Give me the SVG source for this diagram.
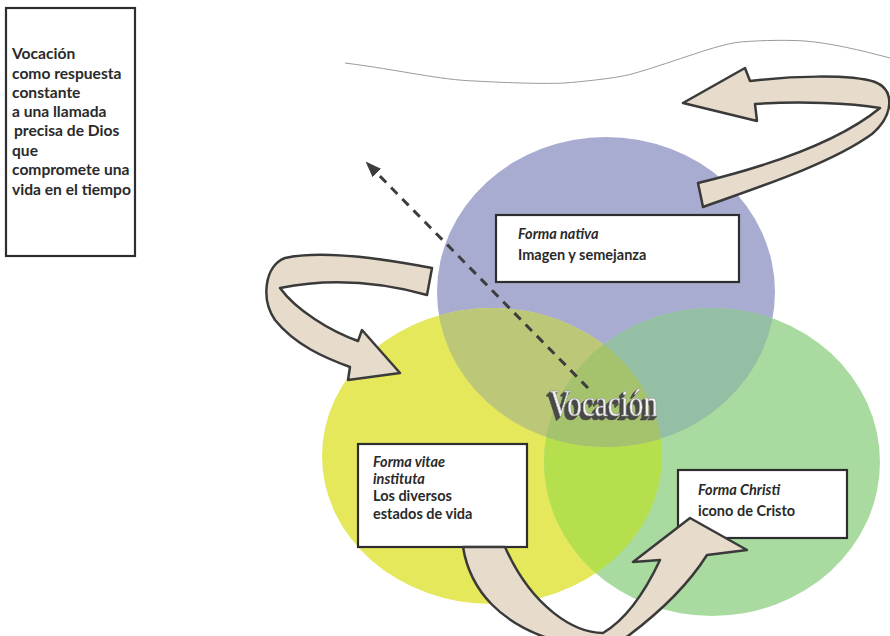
<svg xmlns="http://www.w3.org/2000/svg" width="890" height="636" viewBox="0 0 890 636">
<defs>
<style>
.box{fill:#fff;stroke:#2e2e2e;stroke-width:2.2}
.t{font-family:Lato,"Liberation Sans",sans-serif;font-weight:700;fill:#2a2a2a}
.lt{font-size:15.6px}
.bt{font-size:14.5px}
.it{font-style:italic}
.arrow{fill:#e7dccb;stroke:#3a3a3a;stroke-width:2.5;stroke-linejoin:round}
.voc{font-family:"Liberation Serif","DejaVu Serif",serif;font-size:37px}
</style>
<filter id="emboss" x="-10%" y="-20%" width="120%" height="150%">
<feFlood flood-color="#4a4a4a" result="dark"/>
<feComposite in="dark" in2="SourceAlpha" operator="in" result="shape"/>
<feOffset in="shape" dx="-1" dy="1" result="o1"/>
<feOffset in="shape" dx="-2" dy="2" result="o2"/>
<feOffset in="shape" dx="-3" dy="3" result="o3"/>
<feOffset in="shape" dx="-4" dy="3.5" result="o4"/>
<feMerge>
<feMergeNode in="o4"/>
<feMergeNode in="o3"/>
<feMergeNode in="o2"/>
<feMergeNode in="o1"/>
<feMergeNode in="SourceGraphic"/>
</feMerge>
</filter>
<clipPath id="cY"><ellipse cx="492" cy="456" rx="170" ry="148"/></clipPath>
<clipPath id="cG"><ellipse cx="712" cy="462" rx="168" ry="154"/></clipPath>
<marker id="ah" markerWidth="16" markerHeight="12" refX="14" refY="6" orient="auto" markerUnits="userSpaceOnUse">
<path d="M0,0 L16,6 L0,12 z" fill="#3d3d3d"/>
</marker>
</defs>
<rect width="890" height="636" fill="#fff"/>
<path d="M345,63 C400,70 440,80 475,81 C510,83 545,84 565,83 C600,80 620,77 632,74 C680,60 715,45 740,42 C765,40 790,40 805,41 C830,43 860,50 890,58" fill="none" stroke="#9a9a9a" stroke-width="1"/>

<g id="text-box">
<rect class="box" x="6" y="8" width="129" height="248"/>
<text class="t lt" x="12" y="59">Vocación</text>
<text class="t lt" x="12" y="79">como respuesta</text>
<text class="t lt" x="12" y="98">constante</text>
<text class="t lt" x="12" y="117">a una llamada</text>
<text class="t lt" x="14" y="136">precisa de Dios</text>
<text class="t lt" x="12" y="156">que</text>
<text class="t lt" x="12" y="175">compromete una</text>
<text class="t lt" x="12" y="195">vida en el tiempo</text>
</g>

<g id="circles">
<ellipse id="circle-nativa" cx="606" cy="292" rx="169" ry="155" fill="#a9acd1"/>
<ellipse id="circle-vitae" cx="492" cy="456" rx="170" ry="148" fill="#e6e85c"/>
<ellipse id="circle-christi" cx="712" cy="462" rx="168" ry="154" fill="#a9dba0"/>
<g clip-path="url(#cY)">
<ellipse cx="606" cy="292" rx="169" ry="155" fill="#bcc878"/>
<ellipse cx="712" cy="462" rx="168" ry="154" fill="#b6df4e"/>
</g>
<g clip-path="url(#cG)">
<ellipse cx="606" cy="292" rx="169" ry="155" fill="#95bfa5"/>
</g>
<g clip-path="url(#cY)"><g clip-path="url(#cG)">
<ellipse cx="606" cy="292" rx="169" ry="155" fill="#a5c26c"/>
</g></g>
</g>

<g id="node-nativa">
<rect class="box" x="496" y="215" width="243" height="67"/>
<text class="t bt it" x="518" y="239">Forma nativa</text>
<text class="t bt" x="518" y="260">Imagen y semejanza</text>
</g>
<g id="node-vitae">
<rect class="box" x="358" y="444" width="169" height="103"/>
<text class="t bt it" x="373" y="467">Forma vitae</text>
<text class="t bt it" x="373" y="484">instituta</text>
<text class="t bt" x="373" y="501">Los diversos</text>
<text class="t bt" x="373" y="519">estados de vida</text>
</g>
<g id="node-christi">
<rect class="box" x="678" y="470" width="169" height="68"/>
<text class="t bt it" x="698" y="495">Forma Christi</text>
<text class="t bt" x="698" y="516">icono de Cristo</text>
</g>

<g id="connectors">
<path class="arrow" d="M683,103 L745,68 L750,81 C790,76 850,74 875,82 C895,90 894,115 872,134 C832,163 762,186 703,207 L698,183 C760,168 835,145 880,108 C850,103 800,101 755,104 L757,121 Z"/>
<path class="arrow" d="M400,373 L362,330 L358,341 C330,331 296,310 280,288 C330,278 380,282 427,295 L432,268 C380,258 320,250 285,258 C264,266 261,300 275,320 C295,345 325,358 350,367 L348,380 Z"/>
<path class="arrow" d="M463,547 C470,590 500,625 560,642 C590,648 612,645 628,636 C660,612 688,585 707,555 L747,550 L690,518 L633,562 L660,560 C645,592 625,620 603,633 C575,633 532,608 505,547 Z"/>
<line x1="588" y1="388" x2="367" y2="163" stroke="#3d3d3d" stroke-width="3" stroke-dasharray="9 7" marker-end="url(#ah)"/>
</g>

<g id="center-label">
<text class="voc" x="550" y="416" textLength="108" lengthAdjust="spacingAndGlyphs" fill="#f2f2f2" stroke="#8a8a8a" stroke-width="0.5" filter="url(#emboss)">Vocación</text>
</g>
</svg>
